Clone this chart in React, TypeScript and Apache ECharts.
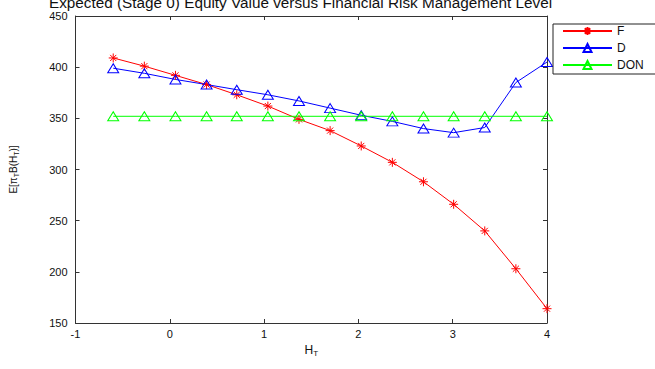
import React, { useEffect, useRef } from "react";
import * as echarts from "echarts";

const xValues = [-0.6, -0.27, 0.06, 0.39, 0.71, 1.04, 1.37, 1.7, 2.03, 2.36, 2.69, 3.01, 3.34, 3.67, 4.0];
const fValues = [409, 401, 392, 383, 373, 362, 349, 338, 323, 307, 288, 266, 240, 203, 164];
const dValues = [399, 394, 388, 383, 378, 373, 367, 360, 353, 347, 340, 336, 341, 385, 405];
const donValues = [352, 352, 352, 352, 352, 352, 352, 352, 352, 352, 352, 352, 352, 352, 352];
const seriesNames = ["F", "D", "DON"];
const titleText = "Expected (Stage 0) Equity Value versus Financial Risk Management Level";

const star = "path://M5,0L5,10M0,5L10,5M1.6,1.6L8.4,8.4M1.6,8.4L8.4,1.6";
const FONT = "'Liberation Sans', Arial, sans-serif";
const AX = "#333";

export default function App() {
  const ref = useRef<HTMLDivElement>(null);
  useEffect(() => {
    if (!ref.current) return;
    const chart = echarts.init(ref.current, null, { renderer: "svg" });
    const pairs = (ys: number[]) => xValues.map((x, i) => [x, ys[i]]);
    const mk = (name: string, ys: number[], color: string, symbol: string, size: any, filled: boolean) => ({
      name,
      type: "line",
      data: pairs(ys),
      symbol,
      symbolSize: size,
      showSymbol: true,
      lineStyle: { color, width: 1 },
      itemStyle: { color: filled ? color : "rgba(0,0,0,0)", borderColor: color, borderWidth: 1 },
      emphasis: { disabled: true },
      z: 3,
    });
    chart.setOption({
      animation: false,
      backgroundColor: "#fff",
      title: {
        text: titleText,
        left: 44,
        top: -10,
        textStyle: { fontFamily: FONT, fontSize: 15.3, fontWeight: "normal", color: "#111" },
      },
      legend: {
        orient: "vertical",
        left: 553,
        top: 24,
        data: seriesNames,
        itemWidth: 49,
        itemHeight: 10,
        itemGap: 5,
        padding: [1, 60, 3, 9],
        borderColor: "#222",
        borderWidth: 1,
        backgroundColor: "#fff",
        textStyle: { fontFamily: FONT, fontSize: 12, color: "#111" },
      },
      grid: { left: 73, right: 108, top: 16, bottom: 46, show: false },
      xAxis: [
        {
          type: "value",
          min: -1,
          max: 4,
          interval: 1,
          name: "H{sub|T}",
          nameLocation: "middle",
          nameGap: 18,
          nameTextStyle: {
            fontFamily: FONT, fontSize: 12, color: "#111",
            rich: { sub: { fontFamily: FONT, fontSize: 8, color: "#111", padding: [8, 0, 0, 0] } },
          },
          axisLine: { show: true, onZero: false, lineStyle: { color: AX, width: 1 } },
          axisTick: { show: true, inside: true, length: 4, lineStyle: { color: AX } },
          axisLabel: { fontFamily: FONT, fontSize: 11, color: "#111", margin: 5 },
          splitLine: { show: false },
        },
        {
          type: "value",
          position: "top",
          min: -1,
          max: 4,
          interval: 1,
          axisLine: { show: true, onZero: false, lineStyle: { color: AX, width: 1 } },
          axisTick: { show: true, inside: true, length: 4, lineStyle: { color: AX } },
          axisLabel: { show: false },
          splitLine: { show: false },
        },
      ],
      yAxis: [
        {
          type: "value",
          min: 150,
          max: 450,
          interval: 50,
          name: "E[π{sub|T}B(H{sub|T})]",
          nameLocation: "middle",
          nameGap: 56,
          nameTextStyle: {
            fontFamily: FONT, fontSize: 10, color: "#111",
            rich: { sub: { fontFamily: FONT, fontSize: 7, color: "#111", padding: [6, 0, 0, 0] } },
          },
          axisLine: { show: true, onZero: false, lineStyle: { color: AX, width: 1 } },
          axisTick: { show: true, inside: true, length: 4, lineStyle: { color: AX } },
          axisLabel: { fontFamily: FONT, fontSize: 11, color: "#111", margin: 8 },
          splitLine: { show: false },
        },
        {
          type: "value",
          position: "right",
          min: 150,
          max: 450,
          interval: 50,
          axisLine: { show: true, onZero: false, lineStyle: { color: AX, width: 1 } },
          axisTick: { show: true, inside: true, length: 4, lineStyle: { color: AX } },
          axisLabel: { show: false },
          splitLine: { show: false },
        },
      ],
      series: [
        mk("F", fValues, "#ff0000", star, 9, true),
        mk("D", dValues, "#0000ff", "triangle", [11, 9], false),
        mk("DON", donValues, "#00ff00", "triangle", [11, 9], false),
      ],
    });
    return () => chart.dispose();
  }, []);
  return <div ref={ref} style={{ width: 655, height: 369, position: "absolute", left: 0, top: 0 }} />;
}
